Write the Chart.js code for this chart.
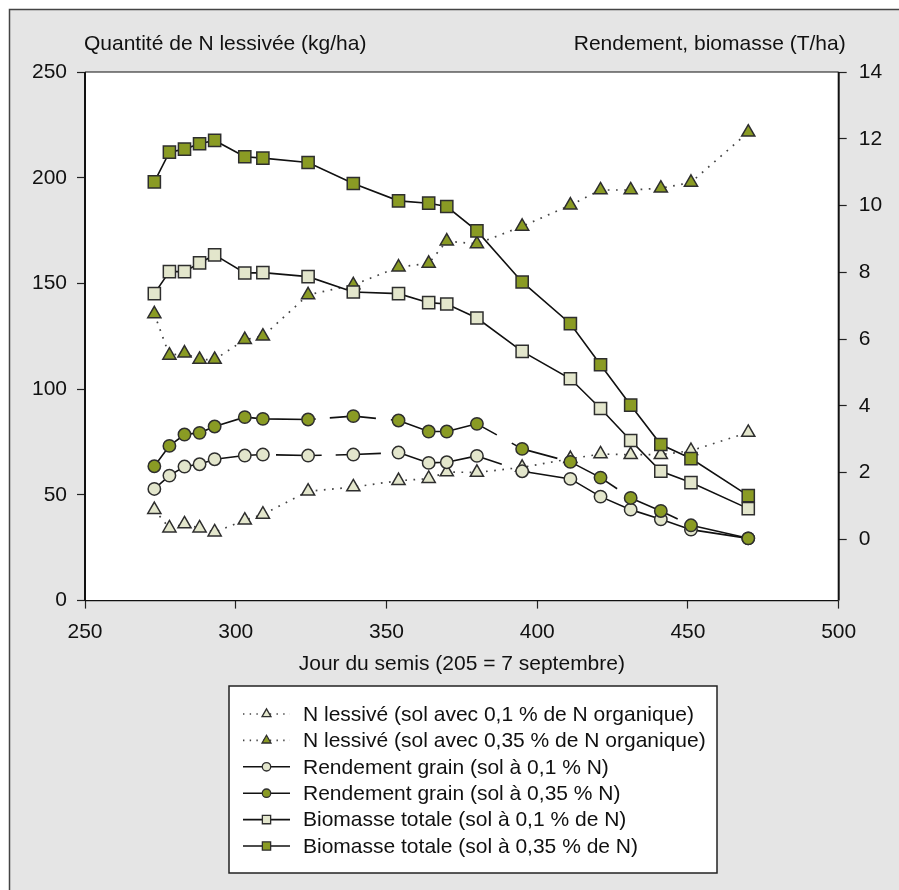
<!DOCTYPE html>
<html>
<head>
<meta charset="utf-8">
<script src="https://cdn.jsdelivr.net/npm/chart.js@4.4.1/dist/chart.umd.min.js"></script>
<style>
    html, body { margin: 0; padding: 0; background: #fff; }
    #wrap { width: 899px; height: 890px; }
</style>
</head>
<body>
<div id="wrap"><canvas id="chart" width="899" height="890"></canvas></div>
<script>
// jour du semis (205 = 7 septembre)
const days = [273, 278, 283, 288, 293, 303, 309, 324, 339, 354, 364, 370, 380, 395, 411, 421, 431, 441, 451, 470];

// N lessivé (kg/ha), axe de gauche
const nLessive01 = [43.0, 34.3, 36.2, 34.3, 32.4, 38.0, 40.8, 51.7, 53.7, 56.7, 57.7, 60.8, 60.6, 63.0, 67.1, 69.3, 69.0, 69.0, 70.9, 79.5];
const nLessive035 = [135.6, 116.0, 117.0, 114.0, 114.0, 123.4, 125.0, 144.6, 149.3, 157.7, 159.5, 170.0, 168.7, 177.0, 187.0, 194.2, 194.2, 195.0, 197.8, 221.5];

// rendement et biomasse (T/ha), axe de droite
const rendement01 = [1.51, 1.91, 2.18, 2.25, 2.40, 2.51, 2.54, 2.51, 2.54, 2.60, 2.29, 2.31, 2.50, 2.04, 1.81, 1.28, 0.89, 0.60, 0.29, 0.03];
const rendement035 = [2.19, 2.80, 3.14, 3.19, 3.38, 3.66, 3.61, 3.59, 3.69, 3.56, 3.23, 3.23, 3.46, 2.71, 2.32, 1.85, 1.24, 0.85, 0.42, 0.03];
const biomasse01 = [7.36, 8.02, 8.02, 8.28, 8.52, 7.98, 7.99, 7.87, 7.41, 7.36, 7.09, 7.05, 6.63, 5.63, 4.81, 3.92, 2.96, 2.04, 1.70, 0.92];
const biomasse035 = [10.71, 11.60, 11.69, 11.85, 11.95, 11.46, 11.42, 11.29, 10.66, 10.14, 10.07, 9.97, 9.24, 7.71, 6.46, 5.23, 4.02, 2.84, 2.42, 1.31];

const xTicks = [250, 300, 350, 400, 450, 500];
const leftTicks = [0, 50, 100, 150, 200, 250];
const rightTicks = [0, 2, 4, 6, 8, 10, 12, 14];

const seriesLabels = [
    'N lessivé (sol avec 0,1 % de N organique)',
    'N lessivé (sol avec 0,35 % de N organique)',
    'Rendement grain (sol à 0,1 % N)',
    'Rendement grain (sol à 0,35 % N)',
    'Biomasse totale (sol à 0,1 % de N)',
    'Biomasse totale (sol à 0,35 % de N)'
];
const leftTitle = 'Quantité de N lessivée (kg/ha)';
const rightTitle = 'Rendement, biomasse (T/ha)';
const xTitle = 'Jour du semis (205 = 7 septembre)';

const FONT = "'Liberation Sans', Arial, Helvetica, sans-serif";
const LIGHT = '#e3e6cc';
const GREEN = '#8a9b24';
const EDGE = '#2e2e2e';

// interrupted pieces of the yield lines: segment index -> [start, end] fraction
const lineGaps = {
    2: { 6: [0, 0.29], 7: [0.30, 0.61], 8: [0.61, 1], 12: [0.55, 1] },
    3: { 7: [0.17, 0.48], 8: [0.50, 0.83], 12: [0.44, 0.77], 13: [0.73, 0.88], 15: [0.55, 1], 17: [0.56, 1] }
};

const gapDash = (dsIndex) => (ctx) => {
    const g = (lineGaps[dsIndex] || {})[ctx.p0DataIndex];
    if (!g) return undefined;
    const len = Math.hypot(ctx.p1.x - ctx.p0.x, ctx.p1.y - ctx.p0.y);
    return [Math.max(g[0] * len, 0.01), (g[1] - g[0]) * len, len, 0];
};

const points = (values) => days.map((d, i) => ({ x: d, y: values[i] }));

const make_dataset = (i, values, axis, style, fill, dotted) => ({
    label: seriesLabels[i],
    data: points(values),
    yAxisID: axis,
    order: 6 - i,
    borderColor: dotted ? '#444' : '#111',
    borderWidth: dotted ? 1.7 : 1.6,
    borderDash: dotted ? [1.7, 6.5] : [],
    pointStyle: style,
    pointRadius: style === 'triangle' ? 7.6 : (style === 'rect' ? 8.6 : 6.2),
    pointBackgroundColor: fill,
    pointBorderColor: EDGE,
    pointBorderWidth: 1.5,
    tension: 0,
    segment: { borderDash: gapDash(i) }
});

const bgPlugin = {
    id: 'bgPlugin',
    beforeDraw: (chart) => {
        const { ctx, width, height, chartArea: a } = chart;
        ctx.save();
        ctx.fillStyle = '#fff';
        ctx.fillRect(0, 0, width, height);
        ctx.fillStyle = '#e5e5e5';
        ctx.fillRect(9.5, 9.5, width, height);
        ctx.strokeStyle = '#444';
        ctx.lineWidth = 1.5;
        ctx.beginPath();
        ctx.moveTo(9.5, height);
        ctx.lineTo(9.5, 9.5);
        ctx.lineTo(width, 9.5);
        ctx.stroke();
        ctx.fillStyle = '#fff';
        ctx.fillRect(a.left, a.top, a.right - a.left, a.bottom - a.top);
        ctx.restore();
    },
    beforeDatasetsDraw: (chart) => {
        const { ctx, chartArea: a } = chart;
        ctx.save();
        ctx.strokeStyle = '#111';
        ctx.lineWidth = 1.2;
        ctx.beginPath();
        ctx.moveTo(a.left, a.top); ctx.lineTo(a.right, a.top);
        ctx.moveTo(a.left, a.bottom); ctx.lineTo(a.right, a.bottom);
        ctx.stroke();
        ctx.lineWidth = 2;
        ctx.beginPath();
        ctx.moveTo(a.left, a.top); ctx.lineTo(a.left, a.bottom);
        ctx.moveTo(a.right, a.top); ctx.lineTo(a.right, a.bottom);
        ctx.stroke();
        ctx.restore();
    },
    afterDraw: (chart) => {
        const { ctx, chartArea: a } = chart;
        ctx.save();
        ctx.font = '21px ' + FONT;
        ctx.fillStyle = '#111';
        ctx.textBaseline = 'alphabetic';
        ctx.textAlign = 'left';
        ctx.fillText(leftTitle, a.left - 1, 50);
        ctx.textAlign = 'right';
        ctx.fillText(rightTitle, a.right + 7, 50);
        ctx.restore();
    }
};

// legend box under the x axis title, line + marker for each series
const legendPlugin = {
    id: 'boxLegend',
    afterDraw: (chart, args, opts) => {
        const { ctx } = chart;
        const box = opts.box;
        ctx.save();
        ctx.fillStyle = '#fff';
        ctx.fillRect(box.left, box.top, box.right - box.left, box.bottom - box.top);
        ctx.strokeStyle = '#222';
        ctx.lineWidth = 1.5;
        ctx.strokeRect(box.left, box.top, box.right - box.left, box.bottom - box.top);

        chart.data.datasets.forEach((ds, i) => {
            const y = box.top + opts.firstRow + i * opts.rowStep;
            const x0 = box.left + 14, x1 = box.left + 61, xm = (x0 + x1) / 2;
            ctx.strokeStyle = ds.borderColor;
            ctx.lineWidth = ds.borderWidth;
            ctx.setLineDash(ds.borderDash.length ? [1.4, 5.3] : []);
            ctx.beginPath();
            ctx.moveTo(x0, y);
            ctx.lineTo(x1, y);
            ctx.stroke();
            ctx.setLineDash([]);

            ctx.fillStyle = ds.pointBackgroundColor;
            ctx.strokeStyle = ds.pointBorderColor;
            ctx.lineWidth = 1.3;
            Chart.helpers.drawPoint(ctx, {
                pointStyle: ds.pointStyle,
                radius: ds.pointRadius * 0.68,
                rotation: 0,
                borderWidth: 1.3
            }, xm, y);

            ctx.fillStyle = '#111';
            ctx.font = '21px ' + FONT;
            ctx.textAlign = 'left';
            ctx.textBaseline = 'middle';
            ctx.fillText(ds.label, box.left + 74, y + 1);
        });
        ctx.restore();
    }
};

Chart.defaults.font.family = FONT;
Chart.defaults.font.size = 21;
Chart.defaults.color = '#111';

const init_chart = () => {
    const canvas = document.getElementById('chart');
    const tickGrid = {
        drawOnChartArea: false,
        drawTicks: true,
        tickLength: 8,
        color: '#222',
        tickColor: '#222',
        tickWidth: 1.2
    };

    new Chart(canvas, {
        type: 'line',
        data: {
            datasets: [
                make_dataset(0, nLessive01, 'yL', 'triangle', LIGHT, true),
                make_dataset(1, nLessive035, 'yL', 'triangle', GREEN, true),
                make_dataset(2, rendement01, 'yR', 'circle', LIGHT, false),
                make_dataset(3, rendement035, 'yR', 'circle', GREEN, false),
                make_dataset(4, biomasse01, 'yR', 'rect', LIGHT, false),
                make_dataset(5, biomasse035, 'yR', 'rect', GREEN, false)
            ]
        },
        options: {
            responsive: false,
            animation: false,
            events: [],
            layout: {
                padding: { left: 0, right: 0, top: 72, bottom: 213.4 }
            },
            scales: {
                x: {
                    type: 'linear',
                    min: 250,
                    max: 500,
                    afterBuildTicks: (scale) => { scale.ticks = xTicks.map(v => ({ value: v })); },
                    afterFit: (scale) => { scale.height = 76; },
                    grid: tickGrid,
                    border: { display: false },
                    ticks: { padding: 11, maxRotation: 0 },
                    title: { display: true, text: xTitle, padding: { top: 0, bottom: 0 }, font: { size: 21 } }
                },
                yL: {
                    position: 'left',
                    min: 0,
                    max: 250,
                    afterBuildTicks: (scale) => { scale.ticks = leftTicks.map(v => ({ value: v })); },
                    afterFit: (scale) => { scale.width = 85; },
                    grid: tickGrid,
                    border: { display: false },
                    ticks: { padding: 10 }
                },
                yR: {
                    position: 'right',
                    min: -1.835,
                    max: 14,
                    afterBuildTicks: (scale) => { scale.ticks = rightTicks.map(v => ({ value: v })); },
                    afterFit: (scale) => { scale.width = 60.3; },
                    grid: tickGrid,
                    border: { display: false },
                    ticks: { padding: 12 }
                }
            },
            plugins: {
                legend: { display: false },
                tooltip: { enabled: false },
                boxLegend: {
                    box: { left: 229, top: 686, right: 717, bottom: 873 },
                    firstRow: 28,
                    rowStep: 26.4
                }
            }
        },
        plugins: [bgPlugin, legendPlugin]
    });
}

init_chart();
</script>
</body>
</html>
